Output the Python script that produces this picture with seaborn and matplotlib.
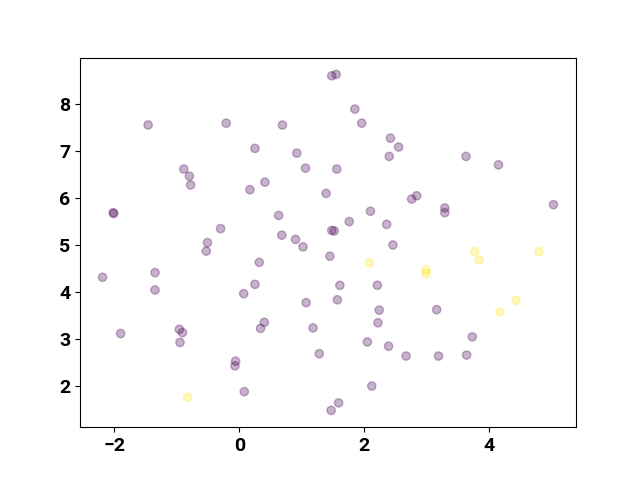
import numpy as np
import pandas as pd
import matplotlib
matplotlib.use("Agg")
from matplotlib import pyplot as plt
import seaborn as sns

# 클래스 0 (보라색) 점들
x0 = [-1.46, -0.21, -0.89, -0.80, -0.78, 0.17, -2.02, -2.01, -0.30, -0.51,
      1.48, 1.55, 1.85, 1.96, 0.69, 2.42, 2.55, 2.40, 0.25, 0.92,
      1.06, 1.56, 0.41, 1.39, 2.76, 2.84, 0.63, 1.76, 2.10, 2.36,
      0.68, 0.90, 1.48, 1.52, 2.46, 3.63, 4.15, 3.29, 3.29, 5.03,
      -0.53, -2.19, -1.35, -1.35, 0.07, -1.90, -0.96, -0.91, -0.95, -0.06,
      -0.07, 0.08, 1.02, 1.45, 0.32, 0.25, 1.61, 2.21, 1.07, 1.57,
      2.24, 2.22, 0.40, 0.34, 1.18, 2.05, 2.39, 2.67, 1.28, 2.12,
      1.59, 1.47, 3.16, 3.73, 3.19, 3.64]
y0 = [7.56, 7.60, 6.62, 6.47, 6.28, 6.18, 5.69, 5.67, 5.35, 5.05,
      8.61, 8.64, 7.90, 7.60, 7.56, 7.28, 7.09, 6.89, 7.06, 6.96,
      6.64, 6.62, 6.34, 6.10, 5.98, 6.05, 5.63, 5.50, 5.72, 5.44,
      5.21, 5.12, 5.31, 5.30, 5.00, 6.89, 6.71, 5.79, 5.69, 5.86,
      4.87, 4.31, 4.41, 4.04, 3.96, 3.11, 3.20, 3.13, 2.92, 2.52,
      2.42, 1.87, 4.96, 4.76, 4.63, 4.16, 4.14, 4.14, 3.77, 3.83,
      3.61, 3.34, 3.35, 3.22, 3.23, 2.93, 2.84, 2.63, 2.68, 1.99,
      1.63, 1.47, 3.62, 3.04, 2.63, 2.65]

# 클래스 1 (노란색) 점들
x1 = [-0.83, 2.08, 3.77, 3.84, 4.80, 2.99, 2.99, 4.43, 4.17]
y1 = [1.75, 4.62, 4.86, 4.68, 4.86, 4.47, 4.39, 3.82, 3.57]

xticks = [-2, 0, 2, 4]
yticks = [2, 3, 4, 5, 6, 7, 8]

df = pd.DataFrame({
    'x': x0 + x1,
    'y': y0 + y1,
    'label': [0] * len(x0) + [1] * len(x1),
})

cmap = plt.get_cmap('viridis')
palette = {0: cmap(0.0), 1: cmap(1.0)}

fig, ax = plt.subplots(figsize=(6.4, 4.8), dpi=100)
sns.scatterplot(data=df, x='x', y='y', hue='label', palette=palette,
                alpha=0.3, s=36, edgecolor='face', linewidth=1.0,
                legend=False, ax=ax)
ax.set_xlabel('')
ax.set_ylabel('')
ax.set_xticks(xticks)
ax.set_yticks(yticks)
for lab in ax.get_xticklabels() + ax.get_yticklabels():
    lab.set_fontfamily('Roboto')
    lab.set_fontweight('bold')
    lab.set_fontsize(14)

fig.savefig('out.png', dpi=100)
